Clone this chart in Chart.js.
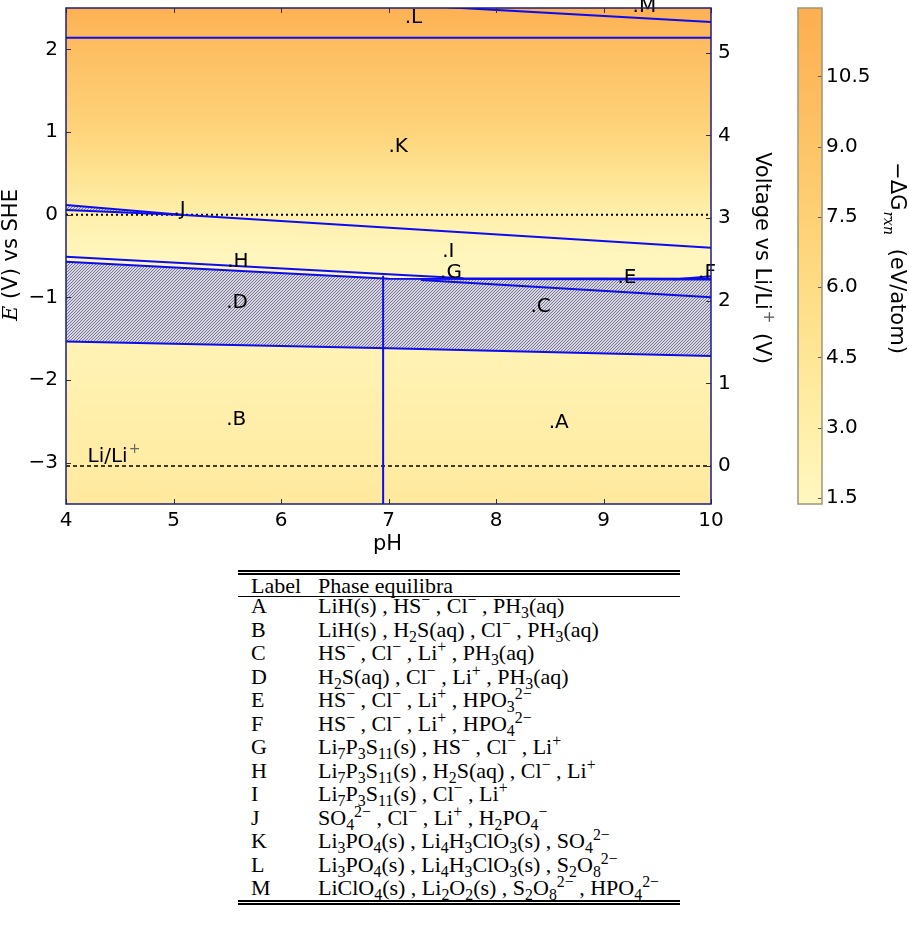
<!DOCTYPE html>
<html>
<head>
<meta charset="utf-8">
<script src="https://cdn.jsdelivr.net/npm/chart.js@4.4.1/dist/chart.umd.min.js"></script>
<style>
  body { margin: 0; background: #fff; width: 909px; height: 925px; position: relative; overflow: hidden; }
  #pourbaix { position: absolute; left: 0; top: 0; }
  #colorbar { position: absolute; left: 785px; top: 0; }
  #phases { position: absolute; left: 238px; top: 570px; width: 442px; font-family: "Liberation Serif", "Times New Roman", serif; font-size: 22px; color: #000; border-top: 5px double #000; border-bottom: 5px double #000; }
  #phases .row { display: flex; height: 23.5px; line-height: 23.5px; white-space: nowrap; }
  #phases .hdr { height: 21px; line-height: 21px; border-bottom: 1.5px solid #000; margin-bottom: -3px; }
  #phases .lab { width: 80px; padding-left: 13px; box-sizing: border-box; }
  #phases sub, #phases sup { font-size: 0.72em; line-height: 0; }
</style>
</head>
<body>
<canvas id="pourbaix" width="785" height="560"></canvas>
<canvas id="colorbar" width="124" height="560"></canvas>
<div id="phases"></div>
<script>
// axis limits
const phLim = [4, 10];
const eLim = [-3.5, 2.5];
const liShift = 3.04;          // Li/Li+ vs SHE
const dgLim = [1.37, 11.96];

const phTicks = [4, 5, 6, 7, 8, 9, 10];
const eTicks = [-3, -2, -1, 0, 1, 2];
const liTicks = [0, 1, 2, 3, 4, 5];
const dgTicks = [1.5, 3.0, 4.5, 6.0, 7.5, 9.0, 10.5];

// phase boundaries (pH, E vs SHE)
const hTopPh = [4, 7, 7.7, 10];
const hTopE = [-0.51, -0.72, -0.77, -0.775];
const bandPh = [4, 7, 10];
const bandTopE = [-0.57, -0.775, -0.785];
const bandBotE = [-1.535, -1.615, -1.71];
const cePh = [7.3, 10];
const ceE = [-0.79, -1.0];
const fPh = [9.65, 10];
const fE = [-0.785, -0.745];
const splitPh = [6.95, 6.95];
const splitE = [-0.74, -3.5];
const jBandPh = [4, 5.1];
const jTopE = [0.117, -0.005];
const jBotE = [0.057, -0.005];
const jPh = [5.1, 10];
const jE = [-0.005, -0.40];
const klPh = [4, 10];
const klE = [2.14, 2.14];
const lmPh = [7.55, 10];
const lmE = [2.51, 2.33];
const sheE = 0;
const liE = -3.04;

// region labels
const regionNames = ['A', 'B', 'C', 'D', 'E', 'F', 'G', 'H', 'I', 'J', 'K', 'L', 'M'];
const regionPh = [8.49, 5.49, 8.32, 5.49, 9.13, 9.88, 7.48, 5.5, 7.5, 5.0, 7.0, 7.15, 9.27];
const regionE = [-2.58, -2.54, -1.18, -1.13, -0.83, -0.77, -0.77, -0.63, -0.51, 0.0, 0.76, 2.32, 2.45];
const liLabelPh = 4.2;

// -dG_rxn of the background along E
const bgE = [2.5, 2.14, 1.0, 0.5, 0.0, -0.5, -1.0, -2.0, -3.0, -3.5];
const bgDG = [11.6, 10.2, 7.0, 5.0, 2.9, 1.6, 1.8, 2.6, 3.5, 4.1];

// colour map
const cmapDG = [1.37, 3.0, 4.5, 6.0, 7.5, 9.0, 10.5, 11.96];
const cmapHex = ['#fff7c1', '#ffefaa', '#fee697', '#fedc85', '#fed076', '#fdc468', '#fdb95c', '#fdae50'];

// table
const rowLabels = ['A', 'B', 'C', 'D', 'E', 'F', 'G', 'H', 'I', 'J', 'K', 'L', 'M'];
const rowPhases = [
  'LiH(s) , HS<sup>\u2212</sup> , Cl<sup>\u2212</sup> , PH<sub>3</sub>(aq)',
  'LiH(s) , H<sub>2</sub>S(aq) , Cl<sup>\u2212</sup> , PH<sub>3</sub>(aq)',
  'HS<sup>\u2212</sup> , Cl<sup>\u2212</sup> , Li<sup>+</sup> , PH<sub>3</sub>(aq)',
  'H<sub>2</sub>S(aq) , Cl<sup>\u2212</sup> , Li<sup>+</sup> , PH<sub>3</sub>(aq)',
  'HS<sup>\u2212</sup> , Cl<sup>\u2212</sup> , Li<sup>+</sup> , HPO<sub>3</sub><sup>2\u2212</sup>',
  'HS<sup>\u2212</sup> , Cl<sup>\u2212</sup> , Li<sup>+</sup> , HPO<sub>4</sub><sup>2\u2212</sup>',
  'Li<sub>7</sub>P<sub>3</sub>S<sub>11</sub>(s) , HS<sup>\u2212</sup> , Cl<sup>\u2212</sup> , Li<sup>+</sup>',
  'Li<sub>7</sub>P<sub>3</sub>S<sub>11</sub>(s) , H<sub>2</sub>S(aq) , Cl<sup>\u2212</sup> , Li<sup>+</sup>',
  'Li<sub>7</sub>P<sub>3</sub>S<sub>11</sub>(s) , Cl<sup>\u2212</sup> , Li<sup>+</sup>',
  'SO<sub>4</sub><sup>2\u2212</sup> , Cl<sup>\u2212</sup> , Li<sup>+</sup> , H<sub>2</sub>PO<sub>4</sub><sup>\u2212</sup>',
  'Li<sub>3</sub>PO<sub>4</sub>(s) , Li<sub>4</sub>H<sub>3</sub>ClO<sub>3</sub>(s) , SO<sub>4</sub><sup>2\u2212</sup>',
  'Li<sub>3</sub>PO<sub>4</sub>(s) , Li<sub>4</sub>H<sub>3</sub>ClO<sub>3</sub>(s) , S<sub>2</sub>O<sub>8</sub><sup>2\u2212</sup>',
  'LiClO<sub>4</sub>(s) , Li<sub>2</sub>O<sub>2</sub>(s) , S<sub>2</sub>O<sub>8</sub><sup>2\u2212</sup> , HPO<sub>4</sub><sup>2\u2212</sup>'
];

var html = '<div class="row hdr"><span class="lab">Label</span><span>Phase equilibra</span></div>';
rowLabels.forEach(function(l, i) {
  html += '<div class="row"><span class="lab">' + l + '</span><span>' + rowPhases[i] + '</span></div>';
});
document.getElementById('phases').innerHTML = html;

function hexRgb(h) { return [1, 3, 5].map(function(i) { return parseInt(h.substr(i, 2), 16); }); }
function cmap(v) {
  var i = 0;
  while (i < cmapDG.length - 2 && v > cmapDG[i + 1]) i++;
  var t = Math.max(0, Math.min(1, (v - cmapDG[i]) / (cmapDG[i + 1] - cmapDG[i])));
  var a = hexRgb(cmapHex[i]), b = hexRgb(cmapHex[i + 1]);
  return 'rgb(' + a.map(function(c, k) { return Math.round(c + (b[k] - c) * t); }).join(',') + ')';
}
function minus(v) { return String(v).replace('-', '\u2212'); }

var sans = 'DejaVu Sans';
var tickFont = { family: sans, size: 20 };
var blue = 'rgb(12,12,238)';

var mainCanvas = document.getElementById('pourbaix');
function makeHatch() {
  var c = document.createElement('canvas');
  c.width = 3; c.height = 3;
  var g = c.getContext('2d');
  g.fillStyle = '#d9d8df';
  g.fillRect(0, 0, 3, 3);
  g.fillStyle = '#76749a';
  for (var i = 0; i < 3; i++) g.fillRect(i, 2 - i, 1, 1);
  return mainCanvas.getContext('2d').createPattern(c, 'repeat');
}
var hatch = makeHatch();

function seg(xs, ys, extra) {
  return Object.assign({
    data: xs.map(function(x, i) { return { x: x, y: ys[i] }; }),
    borderColor: blue, borderWidth: 2, pointRadius: 0, fill: false, tension: 0
  }, extra || {});
}

var pourbaixPlugin = {
  id: 'pourbaix',
  beforeDraw: function(chart) {
    var ctx = chart.ctx, a = chart.chartArea, y = chart.scales.y;
    var g = ctx.createLinearGradient(0, a.top, 0, a.bottom);
    bgE.forEach(function(e, i) {
      var t = (y.getPixelForValue(e) - a.top) / (a.bottom - a.top);
      g.addColorStop(Math.max(0, Math.min(1, t)), cmap(bgDG[i]));
    });
    ctx.save();
    ctx.fillStyle = g;
    ctx.fillRect(a.left, a.top, a.width, a.height);
    ctx.restore();
  },
  afterDatasetsDraw: function(chart) {
    var ctx = chart.ctx, x = chart.scales.x, y = chart.scales.y;
    ctx.save();
    ctx.fillStyle = '#000';
    ctx.font = '20px "' + sans + '"';
    ctx.textAlign = 'left';
    ctx.textBaseline = 'alphabetic';
    regionNames.forEach(function(n, i) {
      ctx.fillText('.' + n, x.getPixelForValue(regionPh[i]), y.getPixelForValue(regionE[i]));
    });
    // Li/Li+ reference label
    var lx = x.getPixelForValue(liLabelPh), ly = y.getPixelForValue(liE) - 4;
    ctx.fillText('Li/Li', lx, ly);
    var w = ctx.measureText('Li/Li').width;
    ctx.font = '14px "' + sans + '"';
    ctx.fillStyle = '#666';
    ctx.fillText('+', lx + w + 1, ly - 9);
    ctx.restore();
  },
  afterDraw: function(chart) {
    var ctx = chart.ctx, a = chart.chartArea, s = chart.scales;
    ctx.save();
    // inward tick marks
    ctx.strokeStyle = '#333';
    ctx.lineWidth = 1;
    ctx.beginPath();
    phTicks.forEach(function(v) {
      var px = Math.round(s.x.getPixelForValue(v)) + 0.5;
      ctx.moveTo(px, a.bottom); ctx.lineTo(px, a.bottom - 5);
      ctx.moveTo(px, a.top); ctx.lineTo(px, a.top + 5);
    });
    eTicks.forEach(function(v) {
      var py = Math.round(s.y.getPixelForValue(v)) + 0.5;
      ctx.moveTo(a.left, py); ctx.lineTo(a.left + 5, py);
    });
    liTicks.forEach(function(v) {
      var py = Math.round(s.y2.getPixelForValue(v)) + 0.5;
      ctx.moveTo(a.right, py); ctx.lineTo(a.right - 5, py);
    });
    ctx.stroke();
    // frame
    ctx.strokeStyle = '#1c1c86';
    ctx.lineWidth = 1.5;
    ctx.strokeRect(a.left, a.top, a.width, a.height);

    ctx.fillStyle = '#000';
    ctx.textBaseline = 'middle';
    // x title
    ctx.font = '21px "' + sans + '"';
    ctx.textAlign = 'center';
    ctx.fillText('pH', (a.left + a.right) / 2 - 1, 545);

    // left title, italic E
    ctx.save();
    ctx.translate(12, 255);
    ctx.rotate(-Math.PI / 2);
    ctx.textAlign = 'left';
    ctx.font = 'italic 21px "DejaVu Serif"';
    var wE = ctx.measureText('E').width;
    ctx.font = '21px "' + sans + '"';
    var rest = ' (V) vs SHE';
    var wR = ctx.measureText(rest).width;
    var x0 = -(wE + wR) / 2;
    ctx.font = 'italic 21px "DejaVu Serif"';
    ctx.fillText('E', x0, 0);
    ctx.font = '21px "' + sans + '"';
    ctx.fillText(rest, x0 + wE, 0);
    ctx.restore();

    // right title
    ctx.save();
    ctx.translate(761, 258);
    ctx.rotate(Math.PI / 2);
    ctx.textAlign = 'left';
    ctx.font = '21px "' + sans + '"';
    var p1 = 'Voltage vs Li/Li', p2 = '  (V)';
    var w1 = ctx.measureText(p1).width, w2 = ctx.measureText(p2).width;
    var xs = -(w1 + w2 + 10) / 2;
    ctx.fillText(p1, xs, 0);
    ctx.font = '15px "' + sans + '"';
    ctx.fillStyle = '#555';
    ctx.fillText('+', xs + w1 + 1, -7);
    ctx.fillStyle = '#000';
    ctx.font = '21px "' + sans + '"';
    ctx.fillText(p2, xs + w1 + 10, 0);
    ctx.restore();
    ctx.restore();
  }
};

new Chart(mainCanvas, {
  type: 'line',
  data: {
    datasets: [
      seg(bandPh, bandTopE, { fill: '+1', backgroundColor: hatch }),
      seg(bandPh, bandBotE),
      seg(jBandPh, jTopE, { fill: '+1', backgroundColor: hatch }),
      seg(jBandPh, jBotE),
      seg(jPh, jE),
      seg(hTopPh, hTopE),
      seg(cePh, ceE),
      seg(fPh, fE),
      seg(splitPh, splitE),
      seg(klPh, klE),
      seg(lmPh, lmE),
      seg(phLim, [sheE, sheE], { borderColor: '#000', borderWidth: 2, borderDash: [2, 3] }),
      seg(phLim, [liE, liE], { borderColor: '#000', borderWidth: 1.5, borderDash: [4, 3] })
    ]
  },
  options: {
    responsive: false,
    animation: false,
    layout: { padding: { top: 8, left: 0, right: 0, bottom: 0 } },
    plugins: {
      legend: { display: false },
      tooltip: { enabled: false },
      filler: { drawTime: 'beforeDatasetsDraw' }
    },
    scales: {
      x: {
        type: 'linear', min: phLim[0], max: phLim[1],
        grid: { display: false, drawTicks: false }, border: { display: false },
        ticks: { padding: 5, color: '#000', font: tickFont, maxRotation: 0, callback: minus },
        afterBuildTicks: function(s) { s.ticks = phTicks.map(function(v) { return { value: v }; }); },
        afterFit: function(s) { s.height = 56; s.paddingLeft = 0; s.paddingRight = 0; }
      },
      y: {
        position: 'left', min: eLim[0], max: eLim[1],
        grid: { display: false, drawTicks: false }, border: { display: false },
        ticks: { padding: 8, color: '#000', font: tickFont, callback: minus },
        afterBuildTicks: function(s) { s.ticks = eTicks.map(function(v) { return { value: v }; }); },
        afterFit: function(s) { s.width = 66; s.paddingTop = 0; s.paddingBottom = 0; }
      },
      y2: {
        position: 'right', min: eLim[0] + liShift, max: eLim[1] + liShift,
        grid: { display: false, drawTicks: false }, border: { display: false },
        ticks: { padding: 7, color: '#000', font: tickFont, callback: minus },
        afterBuildTicks: function(s) { s.ticks = liTicks.map(function(v) { return { value: v }; }); },
        afterFit: function(s) { s.width = 74; s.paddingTop = 0; s.paddingBottom = 0; }
      }
    }
  },
  plugins: [pourbaixPlugin]
});

// colour bar
function barGradient(chart) {
  var y = chart.scales.y;
  if (!chart.chartArea || !y) return cmap(dgLim[1]);
  var g = chart.ctx.createLinearGradient(0, y.getPixelForValue(dgLim[0]), 0, y.getPixelForValue(dgLim[1]));
  cmapDG.forEach(function(v, i) {
    g.addColorStop((v - dgLim[0]) / (dgLim[1] - dgLim[0]), cmapHex[i]);
  });
  return g;
}

var colorbarPlugin = {
  id: 'cbar',
  afterDraw: function(chart) {
    var ctx = chart.ctx, a = chart.chartArea, y = chart.scales.y;
    ctx.save();
    ctx.strokeStyle = '#555';
    ctx.lineWidth = 1;
    ctx.beginPath();
    dgTicks.forEach(function(v) {
      var py = Math.round(y.getPixelForValue(v)) + 0.5;
      ctx.moveTo(a.right, py); ctx.lineTo(a.right - 4, py);
    });
    ctx.stroke();
    ctx.strokeStyle = '#9a9878';
    ctx.lineWidth = 1.5;
    ctx.strokeRect(a.left, a.top, a.width, a.height);

    ctx.translate(111, 258);
    ctx.rotate(Math.PI / 2);
    ctx.fillStyle = '#000';
    ctx.textBaseline = 'middle';
    ctx.textAlign = 'left';
    ctx.font = '21px "' + sans + '"';
    var p1 = '\u2212\u0394G', p3 = ' (eV/atom)';
    var w1 = ctx.measureText(p1).width, w3 = ctx.measureText(p3).width;
    ctx.font = 'italic 14px "DejaVu Serif"';
    var w2 = ctx.measureText('rxn').width;
    var x0 = -(w1 + w2 + w3 + 8) / 2;
    ctx.font = '21px "' + sans + '"';
    ctx.fillText(p1, x0, 0);
    ctx.font = 'italic 14px "DejaVu Serif"';
    ctx.fillText('rxn', x0 + w1 + 1, 8);
    ctx.font = '21px "' + sans + '"';
    ctx.fillText(p3, x0 + w1 + w2 + 8, 0);
    ctx.restore();
  }
};

new Chart(document.getElementById('colorbar'), {
  type: 'bar',
  data: {
    labels: ['dG'],
    datasets: [{
      data: [dgLim],
      backgroundColor: function(c) { return barGradient(c.chart); },
      borderWidth: 0, barPercentage: 1, categoryPercentage: 1
    }]
  },
  options: {
    responsive: false,
    animation: false,
    layout: { padding: { top: 8, left: 13, right: 0, bottom: 56 } },
    plugins: { legend: { display: false }, tooltip: { enabled: false } },
    scales: {
      x: { display: false },
      y: {
        position: 'right', min: dgLim[0], max: dgLim[1],
        grid: { display: false, drawTicks: false }, border: { display: false },
        ticks: { padding: 4, color: '#000', font: tickFont, callback: function(v) { return v.toFixed(1); } },
        afterBuildTicks: function(s) { s.ticks = dgTicks.map(function(v) { return { value: v }; }); },
        afterFit: function(s) { s.width = 87; s.paddingTop = 0; s.paddingBottom = 0; }
      }
    }
  },
  plugins: [colorbarPlugin]
});
</script>
</body>
</html>
